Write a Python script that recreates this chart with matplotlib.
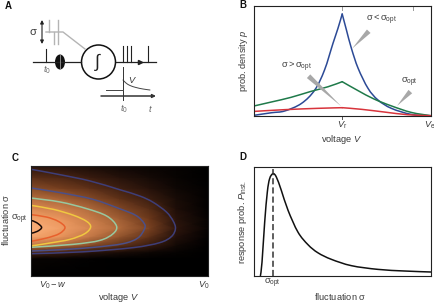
import matplotlib
matplotlib.use('Agg')
import matplotlib.pyplot as plt
from matplotlib.colors import LinearSegmentedColormap
from matplotlib.patches import Circle, Ellipse, PathPatch
from matplotlib.path import Path

plt.rcParams['font.family'] = ['Liberation Sans', 'DejaVu Sans']
plt.rcParams['mathtext.fontset'] = 'custom'
plt.rcParams['mathtext.rm'] = 'Liberation Sans'
plt.rcParams['mathtext.it'] = 'Liberation Sans:italic'
plt.rcParams['mathtext.bf'] = 'Liberation Sans:bold'

TXT = '#3a3a3a'
FS = 6.7
W, H = 435, 304
S_OPT = '$\\mathrm{σ}_{\\mathrm{opt}}$'

# panel B, voltage and density (percent of the axes)
blue_v = [0, 10, 17.5, 27, 34.5, 40, 44.8, 47.6, 50, 52.4, 55.2, 59, 64.6, 70.2, 77.8, 89, 100]
blue_p = [0.3, 2.7, 4.3, 11.2, 23.4, 41.6, 66, 79.6, 92.7, 78.1, 61.4, 43.2, 24.9, 14.3, 6.7, 1.2, 0]
green_v = [0, 10, 21, 32, 42, 50, 59, 68, 78, 89, 100]
green_p = [8.8, 12.5, 16.7, 22, 26.4, 31, 22.8, 15.2, 8.8, 3, 0]
red_v = [0, 17.5, 36, 50, 61, 74, 87, 100]
red_p = [3.9, 5.5, 6.7, 7.3, 5.8, 3.3, 0.9, 0]

# panel C, brightness read on a coarse grid
heat_v = [0, 16.4, 33.3, 50, 67, 82, 100]
heat_s = [0, 15.8, 21.8, 27.9, 35.8, 43.6, 52, 61.2, 70.3, 80, 90, 100]
heat = [
    [0, 0, 0, 0, 0, 0, 0],
    [.03, .02, .01, 0, 0, 0, 0],
    [.25, .20, .14, .09, .05, .02, 0],
    [.62, .55, .42, .30, .18, .06, 0],
    [.92, .80, .63, .46, .30, .11, .01],
    [1.0, .88, .72, .55, .38, .15, .02],
    [.92, .82, .66, .50, .34, .13, .02],
    [.74, .68, .55, .41, .27, .10, .01],
    [.58, .52, .42, .30, .19, .08, .01],
    [.42, .37, .29, .20, .12, .05, .01],
    [.28, .24, .18, .12, .07, .03, 0],
    [.13, .11, .08, .05, .03, .02, 0],
]

# panel C, contour lines (voltage, fluctuation)
c1_v = [0, 16.4, 33.3, 50, 61.5, 69, 76.5, 80.3, 81.6, 79.3, 72.7, 57.7, 29.5, 0]
c1_s = [97, 92.1, 86.4, 78.5, 72.7, 67, 58.2, 50, 43, 35.8, 30.3, 25.8, 22, 20.3]
c2_v = [0, 16.4, 35, 50, 59.3, 64, 64, 60.3, 52, 35, 16.4, 0]
c2_s = [80, 75.8, 69.7, 61.2, 55, 47.6, 42.4, 34.5, 29.4, 26, 23.9, 22.7]
c3_v = [0, 16.4, 31.5, 42.8, 48.3, 46.4, 39, 24, 0]
c3_s = [70.9, 67.3, 61.2, 54.5, 45.5, 38.5, 32.4, 28.8, 26.1]
c4_v = [0, 12.6, 24, 31.4, 33.7, 30.4, 22, 10.7, 0]
c4_s = [64.2, 60.6, 55.2, 49.7, 44.5, 38.5, 33.3, 30, 27.3]
c5_v = [0, 8.8, 15.4, 19.2, 16, 8.8, 0]
c5_s = [55.8, 53.6, 49.7, 44.2, 38.5, 34.5, 31.5]
c6_v = [0, 3.2, 6, 3.6, 0]
c6_s = [50.6, 48.5, 44.2, 40.6, 38.8]
contours = [
    (c1_v, c1_s, '#3e3e78'), (c2_v, c2_s, '#4c5088'), (c3_v, c3_s, '#98c8a0'),
    (c4_v, c4_s, '#f0c840'), (c5_v, c5_s, '#e8602c'), (c6_v, c6_s, '#1c0c08'),
]

# panel D, response probability
resp_s = [3.8, 4.7, 6.2, 7.7, 9, 10.9, 12.8, 15.6, 19.4, 25, 30.7, 36.3, 43.9, 55.2, 70.2, 85.3, 100]
resp_p = [0, 12.5, 49, 76.8, 89, 93.6, 90.5, 78.3, 60, 40, 28.4, 21, 15, 9.2, 5.8, 4.3, 3.4]
sigma_opt = 10.9

fig = plt.figure(figsize=(W / 100, H / 100), dpi=100)


def make_axes(left, right, top, bottom):
    ax = fig.add_axes([left / W, 1 - bottom / H, (right - left) / W, (bottom - top) / H])
    ax.set_xlim(0, 100)
    ax.set_ylim(0, 100)
    ax.set_xticks([])
    ax.set_yticks([])
    for s in ax.spines.values():
        s.set_linewidth(0.8)
        s.set_color('#222222')
    return ax


# draws a smooth bezier through the read points
def smooth(ax, xs, ys, color, lw=1.1):
    verts = [(xs[0], ys[0])]
    codes = [Path.MOVETO]
    n = len(xs)
    for i in range(n - 1):
        x0, y0 = xs[max(i - 1, 0)], ys[max(i - 1, 0)]
        x3, y3 = xs[min(i + 2, n - 1)], ys[min(i + 2, n - 1)]
        verts.append((xs[i] + (xs[i + 1] - x0) / 6, ys[i] + (ys[i + 1] - y0) / 6))
        verts.append((xs[i + 1] - (x3 - xs[i]) / 6, ys[i + 1] - (y3 - ys[i]) / 6))
        verts.append((xs[i + 1], ys[i + 1]))
        codes += [Path.CURVE4] * 3
    ax.add_patch(PathPatch(Path(verts, codes), fill=False, ec=color, lw=lw, capstyle='round'))


# curve with a cusp: two smooth branches meeting at the peak
def cusp(ax, xs, ys, color):
    k = ys.index(max(ys))
    smooth(ax, xs[:k + 1], ys[:k + 1], color)
    smooth(ax, xs[k:], ys[k:], color)


# Panel B
axb = make_axes(253.7, 430.7, 6, 115.7)
cusp(axb, blue_v, blue_p, '#2c4a96')
cusp(axb, green_v, green_p, '#1f7a4a')
cusp(axb, red_v, red_p, '#d8343c')
axb.plot([50, 50], [0, -3], color='#555555', lw=0.7, clip_on=False)
axb.plot([50, 50], [100, 96], color='#999999', lw=0.7)
axb.plot([90, 90], [100, 96], color='#999999', lw=0.7)
wedge = dict(arrowstyle='wedge,tail_width=0.3,shrink_factor=0.5', mutation_scale=12,
             color='#a8a8a8', lw=0, shrinkA=0, shrinkB=0)
axb.annotate('', xy=(55.5, 61), xytext=(65, 77), arrowprops=wedge)
axb.annotate('', xy=(49.5, 8.5), xytext=(31, 36), arrowprops=wedge)
axb.annotate('', xy=(81, 9), xytext=(88.5, 22), arrowprops=wedge)
axb.text(72, 87, '$\\mathrm{σ} < \\mathrm{σ}_{\\mathrm{opt}}$', fontsize=FS, color=TXT, ha='center', va='center')
axb.text(24, 44, '$\\mathrm{σ} > \\mathrm{σ}_{\\mathrm{opt}}$', fontsize=FS, color=TXT, ha='center', va='center')
axb.text(88, 30, S_OPT, fontsize=FS, color=TXT, ha='center', va='center')

# Panel C
axc = make_axes(31, 208, 166, 276)
heat_cmap = LinearSegmentedColormap.from_list(
    'heat', [(0, '#000000'), (.15, '#2e160d'), (.35, '#6f3a1c'), (.55, '#b06a3c'), (.8, '#e8935a'), (1, '#fbb07a')])
axc.pcolormesh(heat_v, heat_s, heat, cmap=heat_cmap, shading='gouraud', vmin=0, vmax=1)
for cv, cs, col in contours:
    smooth(axc, cv, cs, col, lw=1.1)

# Panel D
axd = make_axes(253.7, 430.7, 166.7, 275.7)
smooth(axd, resp_s, resp_p, '#111111')
axd.plot([sigma_opt, sigma_opt], [0, 100], color='#333333', lw=1.1, ls=(0, (4, 2)))

# Panel A and all outer labels, in figure pixels
axa = fig.add_axes([0, 0, 1, 1], facecolor='none')
axa.set_xlim(0, W)
axa.set_ylim(H, 0)
axa.axis('off')


def label(x, y, s, color=TXT, fs=FS, rot=0, ha='center'):
    axa.text(x, y, s, fontsize=fs, color=color, ha=ha, va='center', rotation=rot)


label(244, 61, 'prob. density $p$', rot=90)
label(342, 139, 'voltage $V$')
label(342, 125, '$V_{\\mathrm{r}}$')
label(435, 125, '$V_{\\mathrm{e}}$', ha='right')
label(6, 220, 'fluctuation $\\mathrm{σ}$', rot=90)
label(28, 219, S_OPT, ha='right')
label(119, 297, 'voltage $V$')
label(53, 285, '$V_0 - w$')
label(204, 285, '$V_0$')
label(243, 222, 'response prob. $P_{\\mathrm{inst.}}$', rot=90)
label(340, 297, 'fluctuation $\\mathrm{σ}$')
label(272, 283, S_OPT)

axa.plot([33, 81], [62, 62], color='#222222', lw=0.9)
axa.plot([46, 46], [49, 62], color='#222222', lw=0.8)
axa.add_patch(Ellipse((60, 62), 10, 15, color='#111111', lw=0))
axa.plot([60, 60], [55, 69], color='#999999', lw=0.6)
axa.add_patch(Circle((98.5, 62), 17, fill=False, ec='#111111', lw=1.1))
axa.text(98.5, 62, '$\\int$', fontsize=13, color='#222222', ha='center', va='center')

gray = '#b4b4b4'
axa.plot([46, 63, 85], [32, 32, 49], color=gray, lw=1.0)
axa.plot([49, 49], [20, 32], color=gray, lw=1.0)
axa.plot([54, 54], [32, 44], color=gray, lw=1.0)
axa.plot([58, 58], [20, 44], color=gray, lw=1.0)
axa.annotate('', xy=(42, 20), xytext=(42, 44),
             arrowprops=dict(arrowstyle='<|-|>', color='#222222', lw=0.8, mutation_scale=5, shrinkA=0, shrinkB=0))
label(33, 32, '$\\mathrm{σ}$', fs=8)
label(47, 70, '$t_0$', color='#666666')

axa.plot([116, 156], [62, 62], color='#222222', lw=0.9)
axa.plot([140], [62], marker='>', ms=3, color='#222222')
for sx in [123, 127, 131, 148]:
    axa.plot([sx, sx], [46, 62], color='#222222', lw=0.8)

axa.annotate('', xy=(156, 96), xytext=(101, 96),
             arrowprops=dict(arrowstyle='-|>', color='#333333', lw=1.1, mutation_scale=5, shrinkA=0, shrinkB=0))
axa.plot([123, 123], [67, 100], color='#333333', lw=0.7)
axa.plot([106, 123], [90, 90], color='#444444', lw=0.7)
smooth(axa, [123, 126, 130, 136, 143, 150], [80, 83, 85.5, 87.5, 89, 90], '#444444', lw=0.7)
label(132, 80, '$V$')
label(124, 109, '$t_0$', color='#666666')
label(150, 108, '$t$', color='#666666')

for lab, lx, ly in [('A', 8, 6), ('B', 243, 5), ('C', 15, 158), ('D', 243, 157)]:
    axa.text(lx, ly, lab, fontsize=7, fontweight='bold', color='#111111', ha='center', va='center')

fig.savefig('out.png', dpi=100)
